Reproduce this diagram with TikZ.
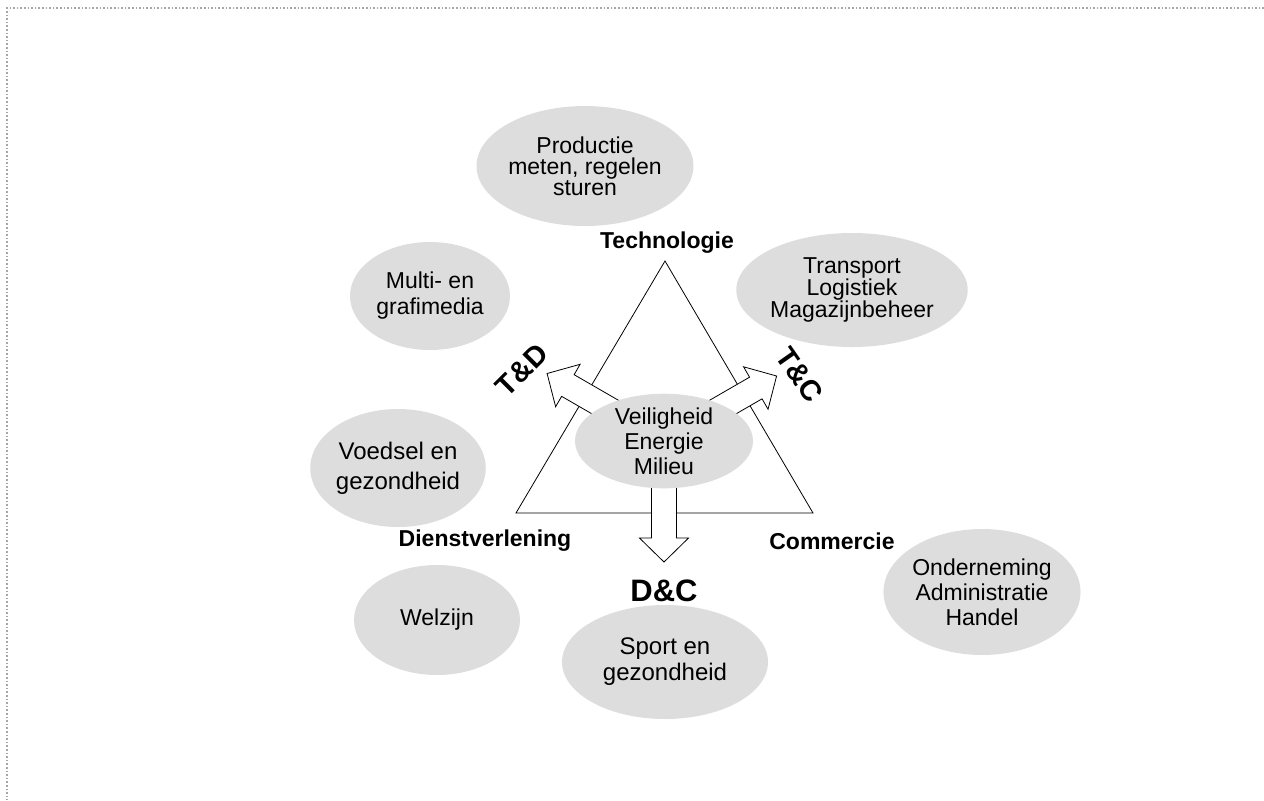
\documentclass[tikz,border=0pt]{standalone}
\usepackage{fontspec}
\setmainfont{Liberation Sans}
\usepackage[]{xcolor}
\usetikzlibrary{shapes.geometric}
\definecolor{cloudgray}{HTML}{DDDDDD}

\begin{document}
\begin{tikzpicture}[
            x=0.5pt, y=-0.5pt,
            sector/.style={ellipse, fill=cloudgray, inner sep=0pt, align=center, font=\fontsize{11.5}{12.5}\selectfont},
            corner/.style={font=\fontsize{11.5}{13}\selectfont\bfseries},
            combi/.style={font=\fontsize{14.5}{16}\selectfont\bfseries},
            blockarrow/.style={draw, fill=white, line width=0.4pt}
        ]
            \useasboundingbox (0,0) rectangle (1264,800);
            \draw[gray!70, densely dotted, line width=0.8pt] (1264,8) -- (7,8) -- (7,800);

            % triangle of the three directions
            \coordinate (T) at (665,261);
            \coordinate (D) at (516,513);
            \coordinate (C) at (813,513);
            \draw[line width=0.4pt] (T) -- (D) -- (C) -- cycle;

            \node[corner] (tech) at (667,243) {Technologie};
            \node[corner] (dienst) at (485,541) {Dienstverlening};
            \node[corner] (comm) at (832,541) {Commercie};

            % block arrows out of the centre
            \foreach \ang/\len in {150/135, 30/130, -90/121}
                \draw[blockarrow, shift={(664,441)}, rotate=\ang]
                    (0,12.5) -- (\len-24,12.5) -- (\len-24,24.5) -- (\len,0)
                    -- (\len-24,-24.5) -- (\len-24,-12.5) -- (0,-12.5) -- cycle;

            \node[combi, rotate=45] (TD) at (522,370) {T\&D};
            \node[combi, rotate=-55] (TC) at (800,375) {T\&C};
            \node[combi, font=\fontsize{15.5}{17}\selectfont\bfseries] (DC) at (664,591) {D\&C};

            \node[sector, minimum width=89pt, minimum height=47pt] (centre) at (664,441) {Veiligheid\\Energie\\Milieu};

            \node[sector, minimum width=105pt, minimum height=60pt, font=\fontsize{11.5}{10.5}\selectfont] (prod) at (585,166) {Productie\\meten, regelen\\sturen};
            \node[sector, minimum width=80pt, minimum height=54pt, font=\fontsize{11.5}{13}\selectfont] (multi) at (430,296) {Multi- en\\grafimedia};
            \node[sector, minimum width=84pt, minimum height=57pt, font=\fontsize{11.5}{10.8}\selectfont] (trans) at (852,290) {Transport\\Logistiek\\Magazijnbeheer};
            \node[sector, minimum width=84pt, minimum height=59pt, font=\fontsize{12}{15}\selectfont] (voed) at (398,468) {Voedsel en\\gezondheid};
            \node[sector, minimum width=83pt, minimum height=55pt] (welz) at (437,620) {Welzijn};
            \node[sector, minimum width=103pt, minimum height=57pt, font=\fontsize{12}{13}\selectfont] (sport) at (665,662) {Sport en\\gezondheid};
            \node[sector, minimum width=80pt, minimum height=63pt] (onder) at (982,592) {Onderneming\\Administratie\\Handel};
        \end{tikzpicture}
\end{document}
